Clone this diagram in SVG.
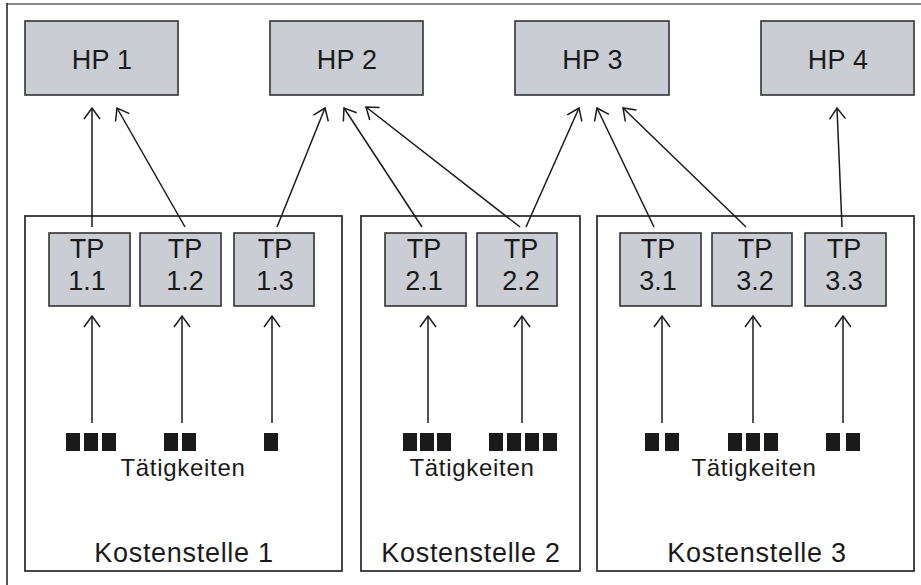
<svg xmlns="http://www.w3.org/2000/svg" width="921" height="585" viewBox="0 0 921 585">
  <style>
    .hp { fill: #cacdd4; stroke: #333; stroke-width: 1.6; }
    .tp { fill: #cacdd4; stroke: #333; stroke-width: 1.6; }
    .ks { fill: none; stroke: #333; stroke-width: 1.8; }
    .lbl { font-family: "Liberation Sans", Arial, sans-serif; fill: #1a1a1a; text-anchor: middle; }
    .hpt { font-size: 27px; letter-spacing: 0.3px; }
    .tpt { font-size: 27px; }
    .act { font-size: 24px; letter-spacing: 0.7px; }
    .kst { font-size: 27px; letter-spacing: 0.7px; }
    .sq { fill: #1a1a1a; }
    .conn line { stroke: #1a1a1a; stroke-width: 1.5; marker-end: url(#arr); }
  </style>
  <defs>
    <marker id="arr" markerUnits="userSpaceOnUse" markerWidth="26" markerHeight="26" viewBox="-13 -13 26 26" refX="0" refY="0" orient="auto">
      <path d="M-11,-8 L0,0 L-11,8" fill="none" stroke="#1a1a1a" stroke-width="1.5"/>
    </marker>
  </defs>
  <rect width="921" height="585" fill="#ffffff"/>

  <!-- frame edges -->
  <line x1="7" y1="4" x2="921" y2="4" stroke="#8a8a8a" stroke-width="2"/>
  <line x1="7" y1="3" x2="7" y2="585" stroke="#1a1a1a" stroke-width="1.5"/>

  <!-- main processes -->
  <g id="hp1"><rect class="hp" x="25" y="21" width="153" height="74"/><text class="lbl hpt" x="102" y="68.5">HP 1</text></g>
  <g id="hp2"><rect class="hp" x="270" y="21" width="153" height="74"/><text class="lbl hpt" x="347" y="68.5">HP 2</text></g>
  <g id="hp3"><rect class="hp" x="515" y="21" width="154" height="74"/><text class="lbl hpt" x="592.5" y="68.5">HP 3</text></g>
  <g id="hp4"><rect class="hp" x="761" y="21" width="153" height="74"/><text class="lbl hpt" x="838" y="68.5">HP 4</text></g>

  <!-- cost centres -->
  <g id="ks1">
    <rect class="ks" x="25" y="216" width="317" height="355"/>
    <text class="lbl act" x="183" y="476">Tätigkeiten</text>
    <text class="lbl kst" x="184" y="562">Kostenstelle 1</text>
  </g>
  <g id="ks2">
    <rect class="ks" x="361" y="216" width="219" height="355"/>
    <text class="lbl act" x="472" y="476">Tätigkeiten</text>
    <text class="lbl kst" x="471" y="562">Kostenstelle 2</text>
  </g>
  <g id="ks3">
    <rect class="ks" x="597" y="216" width="317" height="355"/>
    <text class="lbl act" x="754" y="476">Tätigkeiten</text>
    <text class="lbl kst" x="757" y="562">Kostenstelle 3</text>
  </g>

  <!-- sub processes -->
  <g id="tp11"><rect class="tp" x="49" y="233" width="81" height="73"/><text class="lbl tpt" x="87" y="257.5">TP</text><text class="lbl tpt" x="87" y="289.5">1.1</text></g>
  <g id="tp12"><rect class="tp" x="140" y="233" width="81" height="73"/><text class="lbl tpt" x="185" y="257.5">TP</text><text class="lbl tpt" x="185" y="289.5">1.2</text></g>
  <g id="tp13"><rect class="tp" x="234" y="233" width="80" height="73"/><text class="lbl tpt" x="275" y="257.5">TP</text><text class="lbl tpt" x="275" y="289.5">1.3</text></g>
  <g id="tp21"><rect class="tp" x="385" y="233" width="81" height="73"/><text class="lbl tpt" x="424" y="257.5">TP</text><text class="lbl tpt" x="424" y="289.5">2.1</text></g>
  <g id="tp22"><rect class="tp" x="477" y="233" width="80" height="73"/><text class="lbl tpt" x="521" y="257.5">TP</text><text class="lbl tpt" x="521" y="289.5">2.2</text></g>
  <g id="tp31"><rect class="tp" x="620" y="233" width="81" height="73"/><text class="lbl tpt" x="658" y="257.5">TP</text><text class="lbl tpt" x="658" y="289.5">3.1</text></g>
  <g id="tp32"><rect class="tp" x="712" y="233" width="80" height="73"/><text class="lbl tpt" x="755" y="257.5">TP</text><text class="lbl tpt" x="755" y="289.5">3.2</text></g>
  <g id="tp33"><rect class="tp" x="805" y="233" width="81" height="73"/><text class="lbl tpt" x="844" y="257.5">TP</text><text class="lbl tpt" x="844" y="289.5">3.3</text></g>

  <!-- activities (14 wide, 18 pitch) -->
  <g id="act11" class="sq"><rect x="66" y="433" width="14" height="18"/><rect x="84" y="433" width="14" height="18"/><rect x="102" y="433" width="14" height="18"/></g>
  <g id="act12" class="sq"><rect x="164" y="433" width="14" height="18"/><rect x="182" y="433" width="14" height="18"/></g>
  <g id="act13" class="sq"><rect x="264" y="433" width="14" height="18"/></g>
  <g id="act21" class="sq"><rect x="403" y="433" width="14" height="18"/><rect x="420" y="433" width="14" height="18"/><rect x="437" y="433" width="14" height="18"/></g>
  <g id="act22" class="sq"><rect x="489" y="433" width="14" height="18"/><rect x="507" y="433" width="14" height="18"/><rect x="525" y="433" width="14" height="18"/><rect x="543" y="433" width="14" height="18"/></g>
  <g id="act31" class="sq"><rect x="645" y="433" width="14" height="18"/><rect x="665" y="433" width="14" height="18"/></g>
  <g id="act32" class="sq"><rect x="728" y="433" width="14" height="18"/><rect x="746" y="433" width="14" height="18"/><rect x="764" y="433" width="14" height="18"/></g>
  <g id="act33" class="sq"><rect x="826" y="433" width="14" height="18"/><rect x="846" y="433" width="14" height="18"/></g>

  <!-- connectors -->
  <g id="connectors" class="conn">
    <line x1="92" y1="423" x2="92" y2="316"/>
    <line x1="182" y1="423" x2="182" y2="316"/>
    <line x1="272" y1="423" x2="272" y2="316"/>
    <line x1="428" y1="423" x2="428" y2="316"/>
    <line x1="522" y1="423" x2="522" y2="316"/>
    <line x1="662" y1="423" x2="662" y2="316"/>
    <line x1="753" y1="423" x2="753" y2="316"/>
    <line x1="843" y1="423" x2="843" y2="316"/>

    <line x1="92" y1="227" x2="92" y2="108"/>
    <line x1="185" y1="227" x2="117" y2="108"/>
    <line x1="277" y1="227" x2="325" y2="108"/>
    <line x1="422" y1="227" x2="344" y2="108"/>
    <line x1="520" y1="227" x2="366" y2="107"/>
    <line x1="526" y1="227" x2="579" y2="108"/>
    <line x1="654" y1="227" x2="597" y2="108"/>
    <line x1="746" y1="227" x2="623" y2="108"/>
    <line x1="842" y1="227" x2="837" y2="108"/>
  </g>
</svg>
